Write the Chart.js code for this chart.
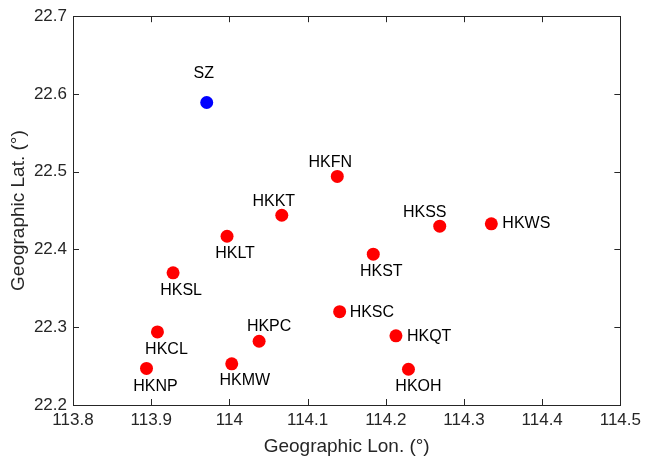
<!DOCTYPE html>
<html>
<head>
<meta charset="utf-8">
<script src="https://cdn.jsdelivr.net/npm/chart.js@4.4.0/dist/chart.umd.min.js"></script>
<style>
html, body { margin: 0; padding: 0; background: #fff; }
#wrap { width: 646px; height: 466px; }
</style>
</head>
<body>
<div id="wrap"><canvas id="chart"></canvas></div>
<script>
// station coordinates
const szName = ['SZ'];
const szLon = [113.971];
const szLat = [22.589];

const hkNames = ['HKFN', 'HKKT', 'HKLT', 'HKSS', 'HKWS', 'HKST', 'HKSL', 'HKSC', 'HKCL', 'HKPC', 'HKQT', 'HKMW', 'HKNP', 'HKOH'];
const hkLon = [114.138, 114.067, 113.997, 114.269, 114.335, 114.184, 113.928, 114.141, 113.908, 114.038, 114.213, 114.003, 113.894, 114.229];
const hkLat = [22.494, 22.444, 22.417, 22.430, 22.433, 22.394, 22.370, 22.320, 22.294, 22.282, 22.289, 22.253, 22.247, 22.246];

const xTicks = [113.8, 113.9, 114.0, 114.1, 114.2, 114.3, 114.4, 114.5];
const xTickLabels = ['113.8', '113.9', '114', '114.1', '114.2', '114.3', '114.4', '114.5'];
const yTicks = [22.2, 22.3, 22.4, 22.5, 22.6, 22.7];
const yTickLabels = ['22.2', '22.3', '22.4', '22.5', '22.6', '22.7'];

// label placement (pixel offset from the marker, alignment)
const labelPlace = {
    SZ:   [-3, -29, 'center'],
    HKFN: [-7, -14, 'center'],
    HKKT: [-8, -14, 'center'],
    HKLT: [8, 17, 'center'],
    HKSS: [-15, -14, 'center'],
    HKWS: [11, 0, 'left'],
    HKST: [8, 17, 'center'],
    HKSL: [8, 18, 'center'],
    HKSC: [10, 1, 'left'],
    HKCL: [9, 18, 'center'],
    HKPC: [10, -15, 'center'],
    HKQT: [11, 1, 'left'],
    HKMW: [13, 17, 'center'],
    HKNP: [9, 18, 'center'],
    HKOH: [10, 17, 'center']
};

const FONT = '"Liberation Sans", Arial, Helvetica, sans-serif';
const AXIS = '#262626';

const toPoints = (xs, ys, names) => xs.map((x, i) => ({ x: x, y: ys[i], name: names[i] }));

const boxPlugin = {
    id: 'box',
    afterDatasetsDraw(chart) {
        const { ctx, chartArea: a, scales } = chart;
        const len = 6;
        ctx.save();
        ctx.strokeStyle = AXIS;
        ctx.lineWidth = 1;
        ctx.beginPath();
        xTicks.forEach(t => {
            const px = Math.round(scales.x.getPixelForValue(t)) + 0.5;
            ctx.moveTo(px, a.bottom); ctx.lineTo(px, a.bottom - len);
            ctx.moveTo(px, a.top); ctx.lineTo(px, a.top + len);
        });
        yTicks.forEach(t => {
            const py = Math.round(scales.y.getPixelForValue(t)) + 0.5;
            ctx.moveTo(a.left, py); ctx.lineTo(a.left + len, py);
            ctx.moveTo(a.right, py); ctx.lineTo(a.right - len, py);
        });
        ctx.stroke();
        ctx.strokeRect(Math.round(a.left) + 0.5, Math.round(a.top) + 0.5,
            Math.round(a.right - a.left), Math.round(a.bottom - a.top));

        // station names
        ctx.fillStyle = '#000';
        ctx.font = '16px ' + FONT;
        ctx.textBaseline = 'middle';
        chart.data.datasets.forEach((ds, di) => {
            chart.getDatasetMeta(di).data.forEach((el, i) => {
                const name = ds.data[i].name;
                const p = labelPlace[name];
                ctx.textAlign = p[2];
                ctx.fillText(name, el.x + p[0], el.y + p[1]);
            });
        });
        ctx.restore();
    }
};

new Chart(document.getElementById('chart'), {
    type: 'scatter',
    data: {
        datasets: [
            { label: 'SZ', data: toPoints(szLon, szLat, szName), backgroundColor: '#0000ff', borderWidth: 0, pointRadius: 6.5, pointHoverRadius: 6.5 },
            { label: 'HK', data: toPoints(hkLon, hkLat, hkNames), backgroundColor: '#ff0000', borderWidth: 0, pointRadius: 6.5, pointHoverRadius: 6.5 }
        ]
    },
    options: {
        responsive: true,
        maintainAspectRatio: false,
        animation: false,
        events: [],
        layout: { padding: { top: 15, right: 24, left: 0, bottom: 0 } },
        plugins: { legend: { display: false }, tooltip: { enabled: false } },
        scales: {
            x: {
                type: 'linear',
                min: 113.8,
                max: 114.5,
                afterBuildTicks: s => { s.ticks = xTicks.map(v => ({ value: v })); },
                afterFit: s => { s.height = 61; },
                grid: { display: false, drawTicks: false },
                border: { display: false },
                ticks: {
                    color: AXIS,
                    font: { family: FONT, size: 17 },
                    padding: 5,
                    maxRotation: 0,
                    callback: (v, i) => xTickLabels[i]
                },
                title: {
                    display: true,
                    text: 'Geographic Lon. (°)',
                    color: AXIS,
                    font: { family: FONT, size: 19 },
                    padding: { top: 0, bottom: 8 }
                }
            },
            y: {
                type: 'linear',
                min: 22.2,
                max: 22.7,
                afterBuildTicks: s => { s.ticks = yTicks.map(v => ({ value: v })); },
                afterFit: s => { s.width = 73; },
                grid: { display: false, drawTicks: false },
                border: { display: false },
                ticks: {
                    color: AXIS,
                    font: { family: FONT, size: 17 },
                    padding: 6,
                    callback: (v, i) => yTickLabels[i]
                },
                title: {
                    display: true,
                    text: 'Geographic Lat. (°)',
                    color: AXIS,
                    font: { family: FONT, size: 19 },
                    padding: { top: 7, bottom: 0 }
                }
            }
        }
    },
    plugins: [boxPlugin]
});
</script>
</body>
</html>
